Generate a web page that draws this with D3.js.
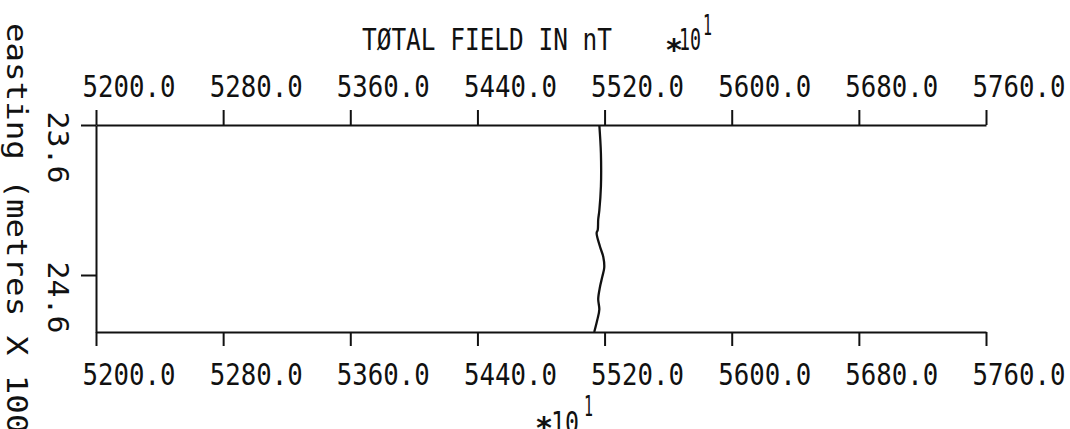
<!DOCTYPE html>
<html>
<head>
<meta charset="utf-8">
<script src="https://cdn.jsdelivr.net/npm/d3@7"></script>
<style>
  body { margin: 0; background: #fff; }
  svg { display: block; }
  text { font-family: "DejaVu Sans Mono", monospace; fill: #111; }
  .domain, .tick line { stroke: #111; stroke-width: 2; fill: none; }
  .trace { stroke: #111; stroke-width: 2.3; fill: none; }
</style>
</head>
<body>
<div class="root"></div>
<script>
// x ticks (total field, nT *10) and y ticks (easting, metres x 100)
var fieldTicks = [5200, 5280, 5360, 5440, 5520, 5600, 5680, 5760];
var eastingTicks = [23.6, 24.6];

// profile, top to bottom
var easting = [23.60, 23.79, 24.01, 24.17, 24.23, 24.30, 24.32, 24.41, 24.48, 24.55, 24.61, 24.68, 24.76, 24.83, 24.90, 24.98];
var field   = [5516.7, 5517.7, 5517.7, 5516.7, 5516.0, 5515.7, 5515.0, 5517.1, 5519.2, 5519.8, 5518.6, 5517.1, 5516.0, 5516.7, 5515.4, 5513.5];

function runChart() {
  var w = 1070, h = 429;

  var svg = d3.select('.root').append('svg')
    .attr('width', w)
    .attr('height', h);

  var x = d3.scaleLinear().domain([5200, 5760]).range([96, 986]);
  var y = d3.scaleLinear().domain([23.6, 24.98]).range([125, 332]);

  var fmt = d3.format('.1f');

  // top axis
  var top = svg.append('g')
    .attr('transform', 'translate(0,' + y.range()[0] + ')')
    .call(d3.axisTop(x).tickValues(fieldTicks).tickFormat(fmt).tickSize(15).tickSizeOuter(0));

  // bottom axis
  var bottom = svg.append('g')
    .attr('transform', 'translate(0,' + y.range()[1] + ')')
    .call(d3.axisBottom(x).tickValues(fieldTicks).tickFormat(fmt).tickSize(14).tickSizeOuter(0));

  [[top, -28], [bottom, 53]].forEach(function(a) {
    a[0].attr('font-family', null).attr('font-size', null);
    a[0].select('.domain').attr('stroke', '#111');
    a[0].selectAll('.tick line').attr('stroke', '#111');
    a[0].selectAll('.tick text')
      .attr('text-anchor', 'start')
      .attr('x', -14)
      .attr('y', a[1])
      .attr('dy', 0)
      .attr('font-size', 31)
      .attr('textLength', 93)
      .attr('lengthAdjust', 'spacingAndGlyphs')
      .attr('fill', '#111');
  });

  // left axis
  var left = svg.append('g')
    .attr('transform', 'translate(' + x.range()[0] + ',0)')
    .call(d3.axisLeft(y).tickValues(eastingTicks).tickFormat(fmt).tickSize(15).tickSizeOuter(0));

  left.attr('font-family', null).attr('font-size', null);
  left.select('.domain').attr('stroke', '#111');
  left.selectAll('.tick line').attr('stroke', '#111');
  left.selectAll('.tick text')
    .attr('text-anchor', 'start')
    .attr('x', 0)
    .attr('y', 0)
    .attr('dy', 0)
    .attr('transform', 'translate(-48,-14) rotate(90)')
    .attr('font-size', 28)
    .attr('textLength', 72)
    .attr('lengthAdjust', 'spacingAndGlyphs')
    .attr('fill', '#111');

  // profile trace
  var line = d3.line()
    .x(function(d, i) { return x(field[i]); })
    .y(function(d, i) { return y(easting[i]); })
    .curve(d3.curveCatmullRom);

  svg.append('path')
    .attr('class', 'trace')
    .attr('d', line(easting));

  // title with multiplier
  var title = svg.append('text').attr('font-size', 30);
  title.append('tspan')
    .attr('x', 362).attr('y', 50)
    .attr('textLength', 250)
    .attr('lengthAdjust', 'spacingAndGlyphs')
    .text('TØTAL FIELD IN nT');
  title.append('tspan')
    .attr('x', 665).attr('y', 60)
    .attr('font-weight', 'bold')
    .text('*');
  title.append('tspan')
    .attr('x', 679).attr('y', 50)
    .attr('textLength', 22)
    .attr('lengthAdjust', 'spacingAndGlyphs')
    .text('10');
  title.append('tspan')
    .attr('x', 703).attr('y', 35)
    .attr('font-size', 28)
    .attr('textLength', 9)
    .attr('lengthAdjust', 'spacingAndGlyphs')
    .text('1');

  // bottom multiplier
  var mult = svg.append('text').attr('font-size', 30);
  mult.append('tspan')
    .attr('x', 535).attr('y', 438)
    .attr('font-weight', 'bold')
    .text('*');
  mult.append('tspan')
    .attr('x', 551).attr('y', 433)
    .attr('textLength', 28)
    .attr('lengthAdjust', 'spacingAndGlyphs')
    .text('10');
  mult.append('tspan')
    .attr('x', 584).attr('y', 416)
    .attr('font-size', 28)
    .attr('textLength', 9)
    .attr('lengthAdjust', 'spacingAndGlyphs')
    .text('1');

  // y axis title, reading downward
  svg.append('text')
    .attr('transform', 'translate(7,23) rotate(90)')
    .attr('font-size', 28)
    .attr('textLength', 430)
    .attr('lengthAdjust', 'spacingAndGlyphs')
    .text('easting (metres X 100)');
}

window.onload = function() {
  runChart();
};
</script>
</body>
</html>
